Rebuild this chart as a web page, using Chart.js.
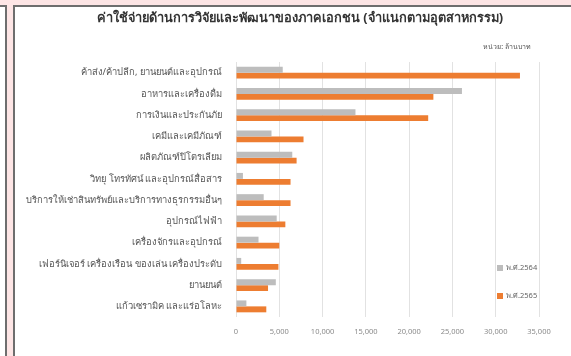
<!DOCTYPE html>
<html>
<head>
<meta charset="utf-8">
<script src="https://cdn.jsdelivr.net/npm/chart.js@4.4.0/dist/chart.umd.min.js"></script>
<style>
  html, body { margin:0; padding:0; }
  body { width:571px; height:356px; background:#fde5e5; position:relative; overflow:hidden; font-family:"Noto Sans", sans-serif; }
  #leftPanel { position:absolute; left:-3px; top:5px; width:8px; height:360px; background:#fff; border:2px solid #6e6e6e; border-left:none; }
  #mainPanel { position:absolute; left:13px; top:5px; width:570px; height:360px; background:#fff; border-left:2px solid #6e6e6e; border-top:2px solid #6e6e6e; }
  #wrap { position:absolute; left:0; top:0; width:571px; height:356px; }
</style>
</head>
<body>
<div id="leftPanel"></div>
<div id="mainPanel"></div>
<div id="wrap"><canvas id="c" width="571" height="356"></canvas></div>
<script>
const titleText = "ค่าใช้จ่ายด้านการวิจัยและพัฒนาของภาคเอกชน (จำแนกตามอุตสาหกรรม)";
const unitText = "หน่วย: ล้านบาท";
const categories = [
  "ค้าส่ง/ค้าปลีก, ยานยนต์และอุปกรณ์",
  "อาหารและเครื่องดื่ม",
  "การเงินและประกันภัย",
  "เคมีและเคมีภัณฑ์",
  "ผลิตภัณฑ์ปิโตรเลียม",
  "วิทยุ โทรทัศน์ และอุปกรณ์สื่อสาร",
  "บริการให้เช่าสินทรัพย์และบริการทางธุรกรรมอื่นๆ",
  "อุปกรณ์ไฟฟ้า",
  "เครื่องจักรและอุปกรณ์",
  "เฟอร์นิเจอร์ เครื่องเรือน ของเล่น เครื่องประดับ",
  "ยานยนต์",
  "แก้วเซรามิค และแร่อโลหะ"
];
const seriesNames = ["พ.ศ.2564", "พ.ศ.2565"];
const values2564 = [5400, 26100, 13800, 4100, 6500, 800, 3200, 4700, 2600, 600, 4600, 1200];
const values2565 = [32800, 22800, 22200, 7800, 7000, 6300, 6300, 5700, 5000, 4900, 3700, 3500];
const xTicks = [0, 5000, 10000, 15000, 20000, 25000, 30000, 35000];

const thaiFont = '"Noto Sans", "DejaVu Sans", sans-serif';

const overlay = {
  id: 'overlay',
  afterDraw(chart) {
    const ctx = chart.ctx;
    ctx.save();
    ctx.textBaseline = 'middle';
    // title
    ctx.font = 'bold 12.8px ' + thaiFont;
    ctx.fillStyle = '#333';
    ctx.textAlign = 'center';
    ctx.fillText(titleText, 300, 18);
    // unit
    ctx.font = '7px ' + thaiFont;
    ctx.fillStyle = '#555';
    ctx.textAlign = 'right';
    ctx.fillText(unitText, 531, 47);
    // legend
    const ys = [268, 296];
    chart.data.datasets.forEach((ds, i) => {
      ctx.fillStyle = ds.backgroundColor;
      ctx.fillRect(497, ys[i] - 3, 6, 6);
      ctx.fillStyle = '#666';
      ctx.textAlign = 'left';
      ctx.font = '7.5px ' + thaiFont;
      ctx.fillText(ds.label, 506, ys[i]);
    });
    ctx.restore();
  }
};

new Chart(document.getElementById('c'), {
  type: 'bar',
  data: {
    labels: categories,
    datasets: [
      { label: seriesNames[0], data: values2564, backgroundColor: '#bdbdbd', categoryPercentage: 0.56, barPercentage: 1.0 },
      { label: seriesNames[1], data: values2565, backgroundColor: '#ed7d31', categoryPercentage: 0.56, barPercentage: 1.0 }
    ]
  },
  options: {
    indexAxis: 'y',
    responsive: false,
    animation: false,
    devicePixelRatio: 1,
    layout: { padding: { left: 14, right: 32, top: 62, bottom: 10 } },
    plugins: {
      legend: { display: false },
      tooltip: { enabled: false },
      title: { display: false }
    },
    scales: {
      x: {
        min: 0, max: 35000,
        afterBuildTicks(scale) { scale.ticks = xTicks.map(v => ({ value: v })); },
        ticks: {
          color: '#8a8a8a',
          font: { family: thaiFont, size: 7.5 },
          padding: 10,
          callback: v => v.toLocaleString('en-US')
        },
        grid: { color: '#e2e2e2', drawTicks: false, lineWidth: 1 },
        border: { display: false }
      },
      y: {
        afterFit(scale) { scale.width = 222; },
        ticks: {
          color: '#555',
          font: { family: thaiFont, size: 9.4 },
          padding: 14
        },
        grid: { display: false, drawTicks: false },
        border: { display: false }
      }
    }
  },
  plugins: [overlay]
});
</script>
</body>
</html>
